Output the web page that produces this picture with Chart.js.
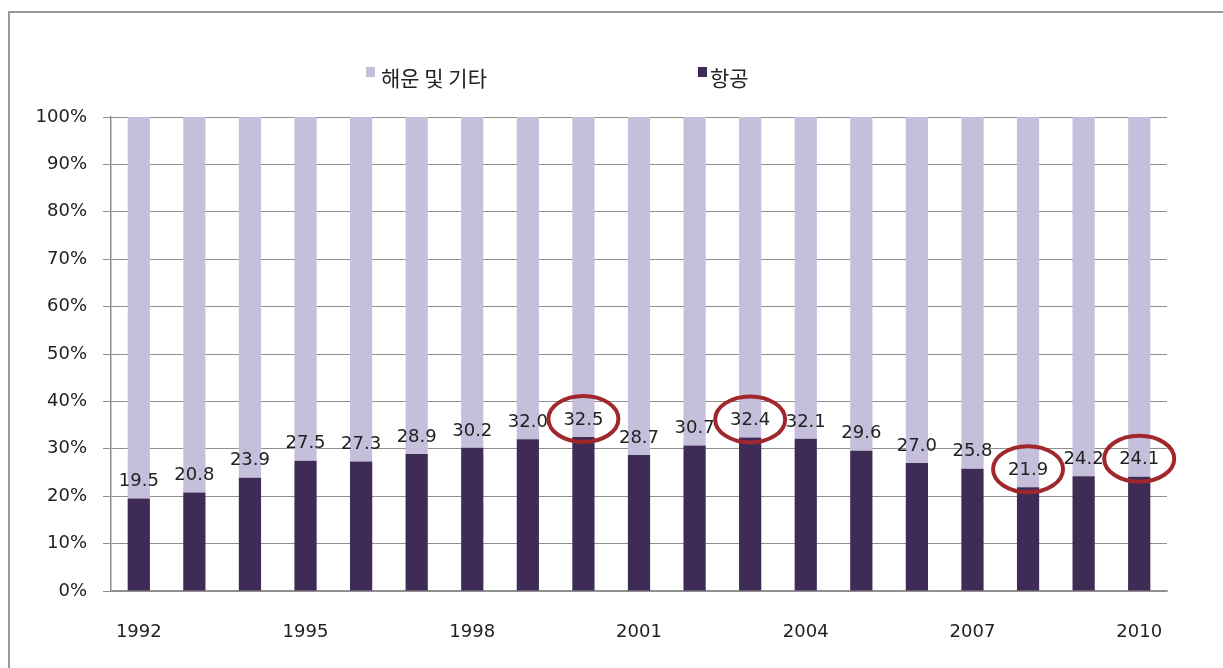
<!DOCTYPE html>
<html>
<head>
<meta charset="utf-8">
<script src="https://cdn.jsdelivr.net/npm/chart.js@4.4.1/dist/chart.umd.min.js"></script>
<style>
  html, body { margin: 0; padding: 0; background: #ffffff; }
  #wrap { position: relative; width: 1223px; height: 668px; }
  canvas { display: block; }
</style>
</head>
<body>
<div id="wrap"><canvas id="c" width="1223" height="668"></canvas></div>
<script>
const years = ['1992','1993','1994','1995','1996','1997','1998','1999','2000','2001','2002','2003','2004','2005','2006','2007','2008','2009','2010'];
const airShare = [19.5, 20.8, 23.9, 27.5, 27.3, 28.9, 30.2, 32.0, 32.5, 28.7, 30.7, 32.4, 32.1, 29.6, 27.0, 25.8, 21.9, 24.2, 24.1];
const seaShare = [80.5, 79.2, 76.1, 72.5, 72.7, 71.1, 69.8, 68.0, 67.5, 71.3, 69.3, 67.6, 67.9, 70.4, 73.0, 74.2, 78.1, 75.8, 75.9];
const seriesNames = ['항공', '해운 및 기타'];
const yTicks = [0, 10, 20, 30, 40, 50, 60, 70, 80, 90, 100];
const shownYears = ['1992','1995','1998','2001','2004','2007','2010'];
const circledYears = ['2000','2003','2008','2010'];

const DARK = '#3e2c57';
const LIGHT = '#c6bfdb';
const GRID = '#8f8f8f';
const TXT = '#222222';
const FONT = "'DejaVu Sans', Verdana, sans-serif";

const overlay = {
  id: 'overlay',
  beforeDraw(chart) {
    const ctx = chart.ctx;
    ctx.save();
    ctx.strokeStyle = '#9a9a9a';
    ctx.lineWidth = 2;
    ctx.beginPath();
    ctx.moveTo(9, 668);
    ctx.lineTo(9, 12);
    ctx.lineTo(1223, 12);
    ctx.stroke();
    ctx.restore();
  },
  afterDatasetsDraw(chart) {
    const ctx = chart.ctx;
    const meta = chart.getDatasetMeta(0);
    ctx.save();
    ctx.font = "18px " + FONT;
    ctx.fillStyle = TXT;
    ctx.textAlign = 'center';
    ctx.textBaseline = 'middle';
    meta.data.forEach((bar, i) => {
      const lx = bar.x;
      const ly = bar.y - 17;
      ctx.fillText(airShare[i].toFixed(1), lx, ly);
      if (circledYears.includes(years[i])) {
        ctx.save();
        ctx.strokeStyle = '#a0282c';
        ctx.lineWidth = 4;
        ctx.beginPath();
        ctx.ellipse(lx, ly - 1, 35, 23, 0, 0, Math.PI * 2);
        ctx.stroke();
        ctx.restore();
      }
    });
    // legend
    const items = [
      { name: seriesNames[1], color: LIGHT, sx: 366, tx: 381 },
      { name: seriesNames[0], color: DARK, sx: 698, tx: 710 }
    ];
    ctx.font = "21px 'Noto Sans CJK KR', sans-serif";
    ctx.textAlign = 'left';
    items.forEach(it => {
      ctx.fillStyle = it.color;
      ctx.fillRect(it.sx, 67, 9, 10);
      ctx.fillStyle = TXT;
      ctx.fillText(it.name, it.tx, 78);
    });
    ctx.restore();
  }
};

new Chart(document.getElementById('c'), {
  type: 'bar',
  data: {
    labels: years,
    datasets: [
      { label: seriesNames[0], data: airShare, backgroundColor: DARK, categoryPercentage: 0.8, barPercentage: 0.5 },
      { label: seriesNames[1], data: seaShare, backgroundColor: LIGHT, categoryPercentage: 0.8, barPercentage: 0.5 }
    ]
  },
  options: {
    responsive: false,
    animation: false,
    devicePixelRatio: 1,
    layout: { padding: { left: 0, right: 56, top: 117, bottom: 0 } },
    plugins: { legend: { display: false }, tooltip: { enabled: false } },
    scales: {
      x: {
        stacked: true,
        grid: { display: false },
        border: { display: true, color: GRID, width: 1.5 },
        ticks: {
          autoSkip: false,
          maxRotation: 0,
          padding: 23,
          color: TXT,
          font: { family: FONT, size: 18 },
          callback: function (v, i) { return shownYears.includes(years[i]) ? years[i] : ''; }
        },
        afterFit(s) { s.height = 77; }
      },
      y: {
        stacked: true,
        min: 0,
        max: 100,
        afterBuildTicks(s) { s.ticks = yTicks.map(v => ({ value: v })); },
        grid: { color: GRID, lineWidth: 1, drawTicks: true, tickLength: 8 },
        border: { display: true, color: GRID, width: 1.5 },
        ticks: {
          padding: 16,
          color: TXT,
          font: { family: FONT, size: 18 },
          callback: v => v + '%'
        },
        afterFit(s) { s.width = 111; }
      }
    }
  },
  plugins: [overlay]
});
</script>
</body>
</html>
